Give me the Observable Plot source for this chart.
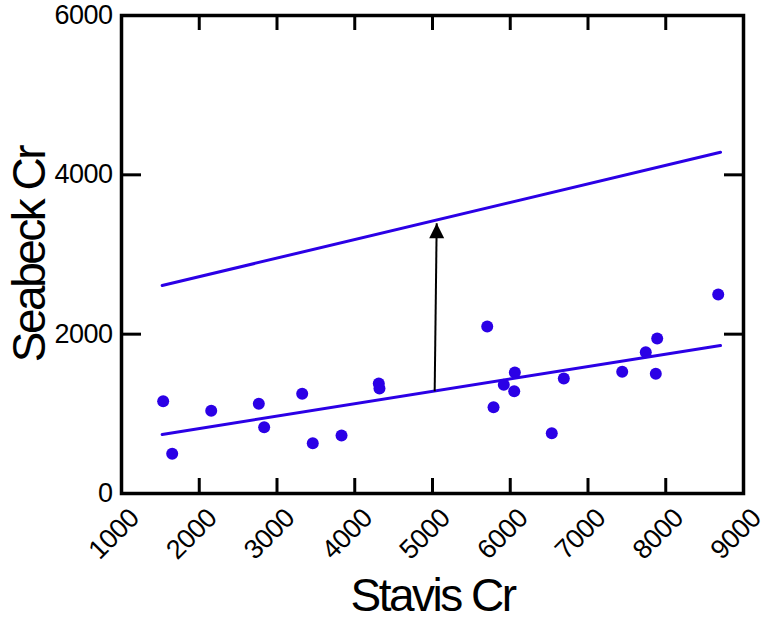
<!DOCTYPE html>
<html><head><meta charset="utf-8">
<script src="https://cdn.jsdelivr.net/npm/d3@7"></script>
<script src="https://cdn.jsdelivr.net/npm/@observablehq/plot@0.6"></script>
<style>body{margin:0;background:#fff}</style>
</head><body><div id="chart"></div>
<script>
// Data
const stavis  = [1536, 1652, 2154, 2766, 2835, 3324, 3460, 3830, 4309, 4318, 5704, 5785, 5917, 6059, 6051, 6534, 6689, 7440, 7743, 7890, 7872, 8675];
const seabeck = [1159,  498, 1038, 1126,  832, 1251,  631,  728, 1381, 1318, 2096, 1083, 1364, 1519, 1284,  757, 1443, 1528, 1774, 1946, 1502, 2498];
const fitX      = [1523, 8704];
const fitLowerY = [741, 1858];
const fitUpperY = [2611, 4284];
const arrowX = [5028, 5054];
const arrowY = [1284, 3393];
const xTicks = [1000, 2000, 3000, 4000, 5000, 6000, 7000, 8000, 9000];
const yTicks = [0, 2000, 4000, 6000];
const xTitle = "Stavis Cr";
const yTitle = "Seabeck Cr";

const blue = "#2b00e6";
const points = stavis.map((x, i) => ({x, y: seabeck[i]}));
const lower = fitX.map((x, i) => ({x, y: fitLowerY[i]}));
const upper = fitX.map((x, i) => ({x, y: fitUpperY[i]}));
const arrow = [{x1: arrowX[0], y1: arrowY[0], x2: arrowX[1], y2: arrowY[1]}];
const tip = [{x: arrowX[1], y: arrowY[1]}];
const arrowHead = {draw(ctx) { ctx.moveTo(0, 0); ctx.lineTo(-7.5, 15); ctx.lineTo(7.5, 15); ctx.closePath(); }};
const fmt = d3.format("d");
const blank = () => "";

const plot = Plot.plot({
  width: 767, height: 621,
  marginLeft: 121, marginRight: 24, marginTop: 15, marginBottom: 128,
  style: {fontFamily: "'Liberation Sans', Arial, sans-serif", color: "#000", background: "#fff"},
  x: {domain: [1000, 9000], axis: null},
  y: {domain: [0, 6000], axis: null},
  marks: [
    Plot.line(upper, {x: "x", y: "y", stroke: blue, strokeWidth: 3}),
    Plot.line(lower, {x: "x", y: "y", stroke: blue, strokeWidth: 3}),
    Plot.link(arrow, {x1: "x1", y1: "y1", x2: "x2", y2: "y2", stroke: "#000", strokeWidth: 2}),
    Plot.dot(tip, {x: "x", y: "y", symbol: arrowHead, fill: "#000", stroke: "none"}),
    Plot.dot(points, {x: "x", y: "y", r: 6, fill: blue}),
    Plot.axisX(xTicks, {anchor: "bottom", tickSize: 15, dy: -15, tickFormat: blank, strokeWidth: 3, label: null}),
    Plot.axisX(xTicks, {anchor: "top", tickSize: 14, dy: 14, tickFormat: blank, strokeWidth: 3, label: null}),
    Plot.axisY(yTicks, {anchor: "left", tickSize: 20, dx: 20, tickFormat: blank, strokeWidth: 3, label: null}),
    Plot.axisY(yTicks, {anchor: "right", tickSize: 20, dx: -20, tickFormat: blank, strokeWidth: 3, label: null}),
    Plot.axisX(xTicks, {anchor: "bottom", tickSize: 0, tickPadding: 20, tickRotate: -45, dx: 13, fontSize: 27, tickFormat: fmt, label: null}),
    Plot.axisY(yTicks, {anchor: "left", tickSize: 0, tickPadding: 9, fontSize: 27, tickFormat: fmt, label: null}),
    Plot.frame({stroke: "#000", strokeWidth: 3.5}),
    Plot.text([xTitle], {text: d => d, frameAnchor: "bottom", dy: 103, fontSize: 46, lineAnchor: "middle", textAnchor: "middle"}),
    Plot.text([yTitle], {text: d => d, frameAnchor: "left", rotate: -90, dx: -91, fontSize: 46, lineAnchor: "middle", textAnchor: "middle"})
  ]
});
d3.select(plot).selectAll("text").each(function() {
  const t = this.textContent;
  if (t === xTitle || t === yTitle) this.style.letterSpacing = "-2.5px";
  else this.style.letterSpacing = "-0.5px";
});
document.getElementById("chart").append(plot);
</script>
</body></html>
